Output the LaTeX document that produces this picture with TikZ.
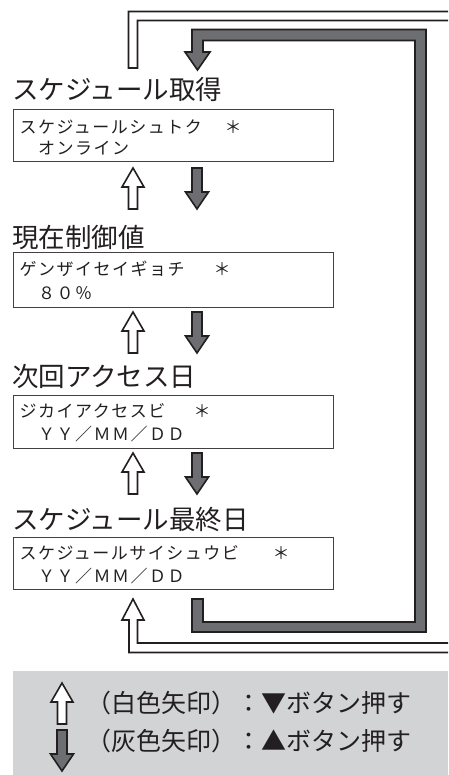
\documentclass[tikz,border=0pt]{standalone}
\usepackage{fontspec}
\newfontfamily\jp{Noto Sans CJK JP}
\newfontfamily\jplcd[LetterSpace=8.8]{Noto Sans CJK JP}
\definecolor{arrowgray}{HTML}{6D6E71}
\definecolor{legendbg}{HTML}{D1D3D4}
\definecolor{inkc}{HTML}{231F20}
\begin{document}
\begin{tikzpicture}[x=1pt,y=-1pt,
  titletext/.style={anchor=west, inner sep=0pt, font=\jp\fontsize{26.5}{30}\selectfont, text=inkc},
  lcdtext/.style={anchor=west, inner sep=0pt, font=\jplcd\fontsize{17}{20}\selectfont, text=inkc},
  lcdstar/.style={anchor=center, inner sep=0pt, font=\jp\fontsize{17}{20}\selectfont, text=inkc},
  dispbox/.style={draw=inkc!85, line width=1pt},
  whitearrow/.style={fill=white, draw=inkc, line width=1.6pt, line join=miter},
  grayarrow/.style={fill=arrowgray, draw=inkc, line width=1.6pt, line join=miter},
  legendtext/.style={anchor=east, inner sep=0pt, font=\jp\fontsize{25}{28}\selectfont, text=inkc},
  upwhite/.pic={\draw[whitearrow] (-4.5,41) -- (-4.5,19) -- (-11,19) -- (0,0) -- (11,19) -- (4.5,19) -- (4.5,41) -- cycle;},
  downgray/.pic={\draw[grayarrow] (-5,0) -- (-5,24) -- (-11.5,24) -- (0,41) -- (11.5,24) -- (5,24) -- (5,0) -- cycle;}]
\clip (0,0) rectangle (448,775);
\fill[white] (0,0) rectangle (448,775);

% outer white loop
\draw[whitearrow] (128.5,68) -- (128.5,11.5) -- (470,11.5) -- (470,652.5) -- (129,652.5) -- (129,620)
  -- (122,620) -- (133,599) -- (144,620) -- (137.5,620) -- (137.5,643) -- (460,643) -- (460,20.5)
  -- (137.5,20.5) -- (137.5,68) -- cycle;
% inner gray loop
\draw[grayarrow] (192,599) -- (192,632) -- (426,632) -- (426,29.5) -- (192,29.5) -- (192,52)
  -- (185,52) -- (197.5,70) -- (210,52) -- (203,52) -- (203,40.5) -- (415,40.5) -- (415,622)
  -- (203,622) -- (203,599) -- cycle;

% titles
\node[titletext] (t1) at (12,89) {スケジュール取得};
\node[titletext] (t2) at (12,237) {現在制御値};
\node[titletext] (t3) at (12,376) {次回アクセス日};
\node[titletext] (t4) at (12,519) {スケジュール最終日};

% display boxes
\draw[dispbox] (13,109.5) rectangle (333,162);
\draw[dispbox] (13,253) rectangle (333,307);
\draw[dispbox] (13,395) rectangle (333,448);
\draw[dispbox] (13,537) rectangle (333,589);

\node[lcdtext] (b1a) at (19.5,127) {スケジュールシュトク};
\node[lcdstar] (b1s) at (233,127) {＊};
\node[lcdtext] (b1b) at (38,148) {オンライン};
\node[lcdtext] (b2a) at (19.5,269) {ゲンザイセイギョチ};
\node[lcdstar] (b2s) at (222,269) {＊};
\node[lcdtext] (b2b) at (38,293) {８０％};
\node[lcdtext] (b3a) at (19.5,411) {ジカイアクセスビ};
\node[lcdstar] (b3s) at (202,411) {＊};
\node[lcdtext] (b3b) at (38,434) {ＹＹ／ＭＭ／ＤＤ};
\node[lcdtext] (b4a) at (19.5,553) {スケジュールサイシュウビ};
\node[lcdstar] (b4s) at (281,553) {＊};
\node[lcdtext] (b4b) at (38,576) {ＹＹ／ＭＭ／ＤＤ};

% arrow pairs
\pic at (133,168) {upwhite};
\pic at (197,168) {downgray};
\pic at (133,312) {upwhite};
\pic at (197,312) {downgray};
\pic at (133,453) {upwhite};
\pic at (197,453) {downgray};

% legend
\fill[legendbg] (13,671) rectangle (448,775);
\pic at (62,683) {upwhite};
\pic at (62,730) {downgray};
\node[legendtext] (l1) at (412,703) {（白色矢印）：▼ボタン押す};
\node[legendtext] (l2) at (412,741) {（灰色矢印）：▲ボタン押す};
\end{tikzpicture}
\end{document}
